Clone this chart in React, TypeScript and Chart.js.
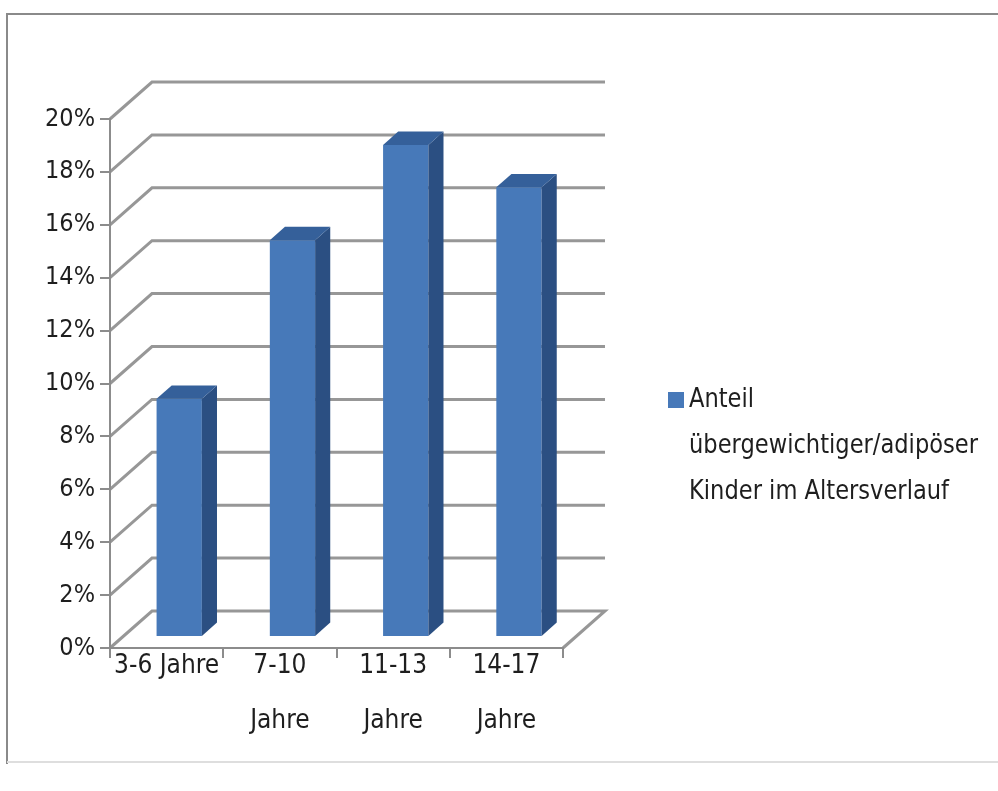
import { useEffect, useRef } from "react";
import { Chart, registerables } from "chart.js";

Chart.register(...registerables);

// ---- data ----
const categoryLabels: string[][] = [
  ["3-6 Jahre"],
  ["7-10", "Jahre"],
  ["11-13", "Jahre"],
  ["14-17", "Jahre"],
];
const shareValues: number[] = [0.09, 0.15, 0.186, 0.17];
const yTickValues: number[] = [0, 0.02, 0.04, 0.06, 0.08, 0.1, 0.12, 0.14, 0.16, 0.18, 0.2];
const legendLines: string[] = ["Anteil", "übergewichtiger/adipöser", "Kinder im Altersverlauf"];

// ---- style ----
const FONT = "'Liberation Sans Narrow', 'DejaVu Sans Condensed', 'Open Sans', sans-serif";
const TEXT = "#1e1e1e";
const GRID = "#979797";
const AXIS = "#8c8c8c";
const FRONT = "#4779b9";
const TOP = "#35609a";
const SIDE = "#2b4f82";
const DX = 42;
const DY = -37;
const BAR_FRONT = 0.3;
const BAR_BACK = 0.66;

const threeD = {
  id: "threeD",
  beforeDraw(chart: any) {
    const { ctx, chartArea: a, scales } = chart;
    const y = scales.y;
    ctx.save();
    ctx.fillStyle = "#ffffff";
    ctx.fillRect(0, 0, chart.width, chart.height);
    // outer frame
    ctx.strokeStyle = "#8a8a8a";
    ctx.lineWidth = 2;
    ctx.beginPath();
    ctx.moveTo(7, 764);
    ctx.lineTo(7, 14);
    ctx.lineTo(chart.width, 14);
    ctx.stroke();
    ctx.strokeStyle = "#dedede";
    ctx.beginPath();
    ctx.moveTo(7, 762);
    ctx.lineTo(chart.width, 762);
    ctx.stroke();
    // back wall + side wall + floor
    ctx.strokeStyle = GRID;
    ctx.lineWidth = 3;
    for (const t of y.ticks) {
      const py = y.getPixelForValue(t.value);
      ctx.beginPath();
      ctx.moveTo(a.left, py);
      ctx.lineTo(a.left + DX, py + DY);
      ctx.lineTo(a.right + DX, py + DY);
      if (t.value === 0) ctx.lineTo(a.right, py);
      ctx.stroke();
    }
    ctx.restore();
  },
  beforeDatasetDraw(chart: any) {
    chart.ctx.save();
    chart.ctx.translate(DX * BAR_FRONT, DY * BAR_FRONT);
  },
  afterDatasetDraw(chart: any) {
    chart.ctx.restore();
  },
  afterDatasetsDraw(chart: any) {
    const { ctx } = chart;
    const meta = chart.getDatasetMeta(0);
    const ox = DX * BAR_FRONT;
    const oy = DY * BAR_FRONT;
    const dx = DX * (BAR_BACK - BAR_FRONT);
    const dy = DY * (BAR_BACK - BAR_FRONT);
    ctx.save();
    for (const el of meta.data) {
      const { x, y, base, width } = el.getProps(["x", "y", "base", "width"], true);
      const l = x - width / 2 + ox;
      const r = x + width / 2 + ox;
      const t = y + oy;
      const b = base + oy;
      ctx.fillStyle = SIDE;
      ctx.beginPath();
      ctx.moveTo(r, t);
      ctx.lineTo(r + dx, t + dy);
      ctx.lineTo(r + dx, b + dy);
      ctx.lineTo(r, b);
      ctx.closePath();
      ctx.fill();
      ctx.fillStyle = TOP;
      ctx.beginPath();
      ctx.moveTo(l, t);
      ctx.lineTo(l + dx, t + dy);
      ctx.lineTo(r + dx, t + dy);
      ctx.lineTo(r, t);
      ctx.closePath();
      ctx.fill();
    }
    ctx.restore();
  },
  afterDraw(chart: any) {
    const { ctx } = chart;
    ctx.save();
    ctx.fillStyle = FRONT;
    ctx.fillRect(668, 392, 16, 16);
    ctx.fillStyle = TEXT;
    ctx.font = `27px ${FONT}`;
    ctx.textBaseline = "middle";
    ctx.textAlign = "left";
    legendLines.forEach((line, i) => {
      ctx.save();
      ctx.translate(689, 400 + i * 46);
      ctx.scale(0.93, 1);
      ctx.fillText(line, 0, 0);
      ctx.restore();
    });
    ctx.restore();
  },
};

export default function App() {
  const ref = useRef<HTMLCanvasElement | null>(null);
  useEffect(() => {
    if (!ref.current) return;
    const chart = new Chart(ref.current, {
      type: "bar",
      data: {
        labels: categoryLabels,
        datasets: [
          {
            label: legendLines.join(" "),
            data: shareValues,
            backgroundColor: FRONT,
            borderWidth: 0,
            categoryPercentage: 1,
            barPercentage: 0.4,
          },
        ],
      },
      options: {
        animation: false,
        responsive: true,
        maintainAspectRatio: false,
        layout: { padding: { top: 119, right: 435, bottom: 0, left: 0 } },
        plugins: { legend: { display: false }, tooltip: { enabled: false } },
        scales: {
          x: {
            offset: true,
            grid: {
              display: true,
              drawOnChartArea: false,
              drawTicks: true,
              tickLength: 10,
              color: AXIS,
              lineWidth: 2,
              offset: true,
            },
            border: { display: true, color: AXIS, width: 2 },
            ticks: {
              color: TEXT,
              font: { family: FONT, size: 26, lineHeight: 2.1 },
              padding: -19,
              maxRotation: 0,
              autoSkip: false,
            },
            afterFit(scale: any) {
              scale.height = 143;
            },
          },
          y: {
            min: 0,
            max: 0.2,
            afterBuildTicks(scale: any) {
              scale.ticks = yTickValues.map((v) => ({ value: v }));
            },
            grid: {
              display: true,
              drawOnChartArea: false,
              drawTicks: true,
              tickLength: 10,
              color: AXIS,
              lineWidth: 2,
            },
            border: { display: true, color: AXIS, width: 2 },
            ticks: {
              color: TEXT,
              font: { family: FONT, size: 25 },
              padding: 5,
              callback: (v: any) => `${Math.round(Number(v) * 100)}%`,
            },
            afterFit(scale: any) {
              scale.width = 110;
            },
          },
        },
      },
      plugins: [threeD],
    });
    return () => chart.destroy();
  }, []);
  return (
    <div style={{ position: "fixed", left: 0, top: 0, width: 998, height: 791, background: "#fff" }}>
      <canvas ref={ref} />
    </div>
  );
}
